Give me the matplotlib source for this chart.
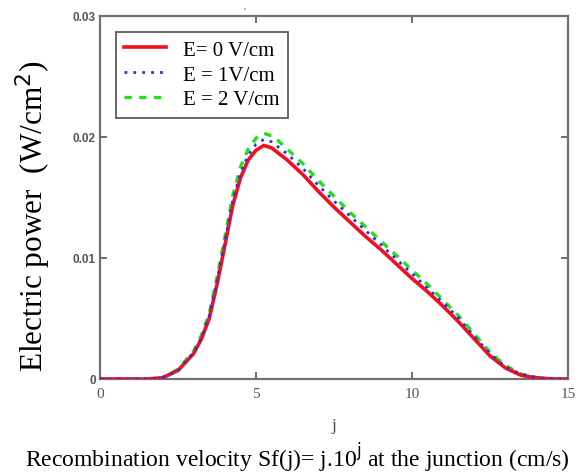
import matplotlib
matplotlib.use("Agg")
import matplotlib.pyplot as plt

# j values (x axis)
j = [0, 0.5, 1.0, 1.5, 2.0, 2.5, 3.0, 3.25, 3.5, 3.75, 4.0, 4.25, 4.5, 4.75, 5.0, 5.25, 5.5,
     5.75, 6.0, 6.5, 7.0, 7.5, 8.0, 8.5, 9.0, 9.5, 10.0, 10.5, 11.0, 11.5, 12.0, 12.5,
     13.0, 13.5, 14.0, 14.5, 15.0]

# Electric power (W/cm^2)
p_e0 = [0, 0, 0, 0, 0.0001, 0.0007, 0.0021, 0.0033, 0.0050, 0.0078, 0.0110, 0.0143, 0.0166,
        0.0181, 0.0189, 0.0193, 0.0191, 0.0186, 0.0181, 0.0169, 0.0155, 0.0142, 0.0130,
        0.0118, 0.0107, 0.0095, 0.0083, 0.0072, 0.0060, 0.0047, 0.0033, 0.0019,
        0.0009, 0.0003, 0.0001, 0, 0]
p_e1 = [0, 0, 0, 0, 0.0001, 0.0007, 0.0022, 0.0034, 0.0052, 0.0081, 0.0113, 0.0147, 0.0170,
        0.0185, 0.0194, 0.0198, 0.0196, 0.0191, 0.0186, 0.0174, 0.0160, 0.0147, 0.0135,
        0.0123, 0.0111, 0.0099, 0.0087, 0.0075, 0.0063, 0.0050, 0.0035, 0.0021,
        0.0010, 0.0004, 0.0001, 0, 0]
p_e2 = [0, 0, 0, 0, 0.0001, 0.0008, 0.0023, 0.0036, 0.0054, 0.0084, 0.0117, 0.0151, 0.0175,
        0.0190, 0.0199, 0.0203, 0.0201, 0.0196, 0.0190, 0.0178, 0.0164, 0.0151, 0.0138,
        0.0126, 0.0114, 0.0102, 0.0090, 0.0078, 0.0065, 0.0052, 0.0037, 0.0022,
        0.0011, 0.0004, 0.0001, 0, 0]

labels = ["E= 0 V/cm", "E = 1V/cm", "E = 2 V/cm"]
x_ticks = [0, 5, 10, 15]
y_ticks = [0, 0.01, 0.02, 0.03]
y_tick_labels = ["0", "0.01", "0.02", "0.03"]

fig = plt.figure(figsize=(5.82, 4.77), dpi=100)
ax = fig.add_axes([0.1718, 0.2034, 0.976 - 0.1718, 0.9644 - 0.2034])

serif = ["Liberation Serif", "DejaVu Serif"]

l0, = ax.plot(j, p_e0, color="#f01020", lw=2.6, ls="-", zorder=3, label=labels[0])
l1, = ax.plot(j, p_e1, color="#3030e0", lw=2.0, ls=(0, (1, 2.2)), zorder=4, label=labels[1])
l2, = ax.plot(j, p_e2, color="#20e020", lw=2.4, ls=(0, (2.2, 2.2)), zorder=2, label=labels[2])

ax.set_xlim(0, 15)
ax.set_ylim(0, 0.03)
ax.set_xticks(x_ticks)
ax.set_yticks(y_ticks)
ax.set_yticklabels(y_tick_labels)
ax.tick_params(axis="both", direction="in", length=5, width=1.2, color="#555555",
               top=True, right=True, labelcolor="#555555")
ax.tick_params(axis="y", pad=3, labelsize=8.5)
ax.tick_params(axis="x", pad=6, labelsize=11)
for t in ax.get_xticklabels():
    t.set_family(serif)
for t in ax.get_yticklabels():
    t.set_family(["Liberation Sans", "DejaVu Sans"])
    t.set_fontweight("bold")

for s in ax.spines.values():
    s.set_color("#707070")
    s.set_linewidth(1.6)

ax.set_xlabel("j", family=serif, fontsize=12, color="#444444", labelpad=12)
ax.set_ylabel("Electric power  (W/cm$^2$)", family=serif, fontsize=22.5)
ax.yaxis.set_label_coords(-0.10, 0.45)
fig.text(0.043, 0.004, "Recombination velocity Sf(j)= j.10$^{\\rm j}$ at the junction (cm/s)",
         family=serif, fontsize=17, ha="left", va="bottom")
fig.text(0.421, 0.985, "'", family=serif, fontsize=8, color="#555555", ha="center", va="top")

leg = ax.legend(handles=[l0, l1, l2], loc="upper left", bbox_to_anchor=(0.012, 0.985),
                prop={"family": serif, "size": 15}, frameon=True, fancybox=False,
                handlelength=2.0, borderpad=0.4, labelspacing=0.25, handletextpad=0.8)
leg.get_frame().set_edgecolor("#333333")
leg.get_frame().set_linewidth(1.3)

fig.savefig("out.png", dpi=100)
